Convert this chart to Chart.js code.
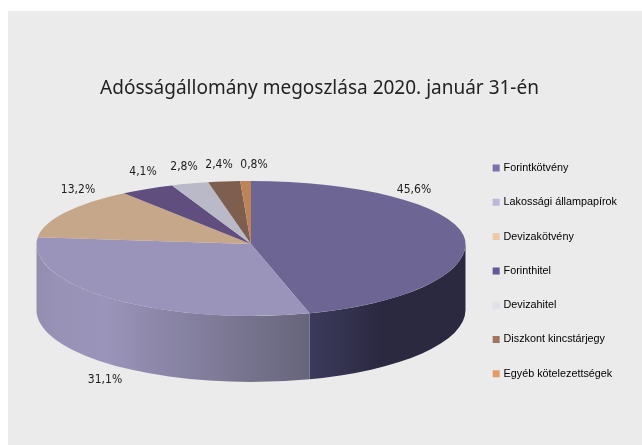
<!DOCTYPE html>
<html>
<head>
<meta charset="utf-8">
<script src="https://cdn.jsdelivr.net/npm/chart.js@4"></script>
<style>
  html, body { margin: 0; background: #fff; }
  #panel { position: absolute; left: 8px; top: 11px; width: 634px; height: 434px; background: #ebebeb; }
  #wrap { position: absolute; left: 0; top: 0; width: 642px; height: 445px; }
</style>
</head>
<body>
<div id="panel"></div>
<div id="wrap"><canvas id="chart"></canvas></div>
<script>
const categories = ["Forintkötvény", "Lakossági állampapírok", "Devizakötvény", "Forinthitel", "Devizahitel", "Diszkont kincstárjegy", "Egyéb kötelezettségek"];
const shares = [45.6, 31.1, 13.2, 4.1, 2.8, 2.4, 0.8];
const topColors = ["#6d6694", "#9a94ba", "#c6a78a", "#5f4e7e", "#b9b9c8", "#7e5e4e", "#be8458"];
const legendColors = ["#7b72ac", "#bdb8d8", "#ecc9a8", "#67579a", "#e0dfea", "#a07560", "#e59b68"];

// where each percent label sits, centre of text
const labelSpots = [[414, 190], [105, 380], [78, 190], [143, 172], [184, 167], [219, 165], [254, 165]];

// tilted pie on the page
const CX = 251, APEX_Y = 244, RX = 214.5, RY_BACK = 63, RY_FRONT = 72, DEPTH = 66;

function sideGradient(ctx, index) {
  let g;
  if (index === 0) {
    g = ctx.createLinearGradient(312, 0, 466, 0);
    g.addColorStop(0, "#3b3a5a");
    g.addColorStop(0.45, "#2b2940");
    g.addColorStop(1, "#2b2940");
  } else {
    g = ctx.createLinearGradient(37, 0, 312, 0);
    g.addColorStop(0, "#938db1");
    g.addColorStop(0.08, "#9892b7");
    g.addColorStop(0.25, "#9a94ba");
    g.addColorStop(1, "#66647a");
  }
  return g;
}

const pie3d = {
  id: "pie3d",
  beforeDatasetsDraw(chart) {
    const ctx = chart.ctx;
    const meta = chart.getDatasetMeta(0);
    const arcs = meta.data;

    // side wall, only the front half of the circle shows
    arcs.forEach((arc, i) => {
      const a0 = Math.max(arc.startAngle, 0);
      const a1 = Math.min(arc.endAngle, Math.PI);
      if (a1 <= a0) return;
      ctx.save();
      ctx.beginPath();
      ctx.ellipse(CX, APEX_Y, RX, RY_FRONT, 0, a0, a1);
      ctx.ellipse(CX, APEX_Y + DEPTH, RX, RY_FRONT, 0, a1, a0, true);
      ctx.closePath();
      ctx.fillStyle = sideGradient(ctx, i);
      ctx.fill();
      ctx.restore();
    });

    // top face, back and front squashed differently for the perspective
    const first = arcs[0];
    const R = first.outerRadius;
    [[0, APEX_Y, RY_BACK], [APEX_Y, chart.height, RY_FRONT]].forEach(([y0, y1, ry]) => {
      ctx.save();
      ctx.beginPath();
      ctx.rect(0, y0, chart.width, y1 - y0);
      ctx.clip();
      ctx.translate(CX, APEX_Y);
      ctx.scale(RX / R, ry / R);
      ctx.translate(-first.x, -first.y);
      meta.controller.draw();
      ctx.restore();
    });
    return false;
  },
  afterDraw(chart) {
    const ctx = chart.ctx;
    ctx.save();
    ctx.font = '12px "DejaVu Sans Condensed", "DejaVu Sans"';
    ctx.fillStyle = "#1c1c1c";
    ctx.textAlign = "center";
    ctx.textBaseline = "middle";
    shares.forEach((v, i) => {
      ctx.fillText(v.toFixed(1).replace(".", ",") + "%", labelSpots[i][0], labelSpots[i][1]);
    });
    ctx.restore();
  },
};

new Chart(document.getElementById("chart"), {
  type: "pie",
  data: {
    labels: categories,
    datasets: [{ data: shares, backgroundColor: topColors, borderWidth: 0 }],
  },
  plugins: [pie3d],
  options: {
    responsive: true,
    maintainAspectRatio: false,
    animation: false,
    layout: { padding: { top: 0, left: 12, bottom: 13, right: 15 } },
    plugins: {
      tooltip: { enabled: false },
      title: {
        display: true,
        text: "Adósságállomány megoszlása 2020. január 31-én",
        color: "#222",
        font: { family: '"Noto Sans"', size: 19, weight: "normal" },
        padding: { top: 77, bottom: 10 },
      },
      legend: {
        position: "right",
        fullSize: false,
        labels: {
          font: { family: '"Liberation Sans"', size: 10.8 },
          color: "#1c1c1c",
          boxWidth: 4,
          boxHeight: 4,
          padding: 23.5,
          generateLabels() {
            return categories.map((name, i) => ({
              text: name,
              fillStyle: legendColors[i],
              strokeStyle: legendColors[i],
              lineWidth: 3,
              index: i,
            }));
          },
        },
      },
    },
  },
});
</script>
</body>
</html>
